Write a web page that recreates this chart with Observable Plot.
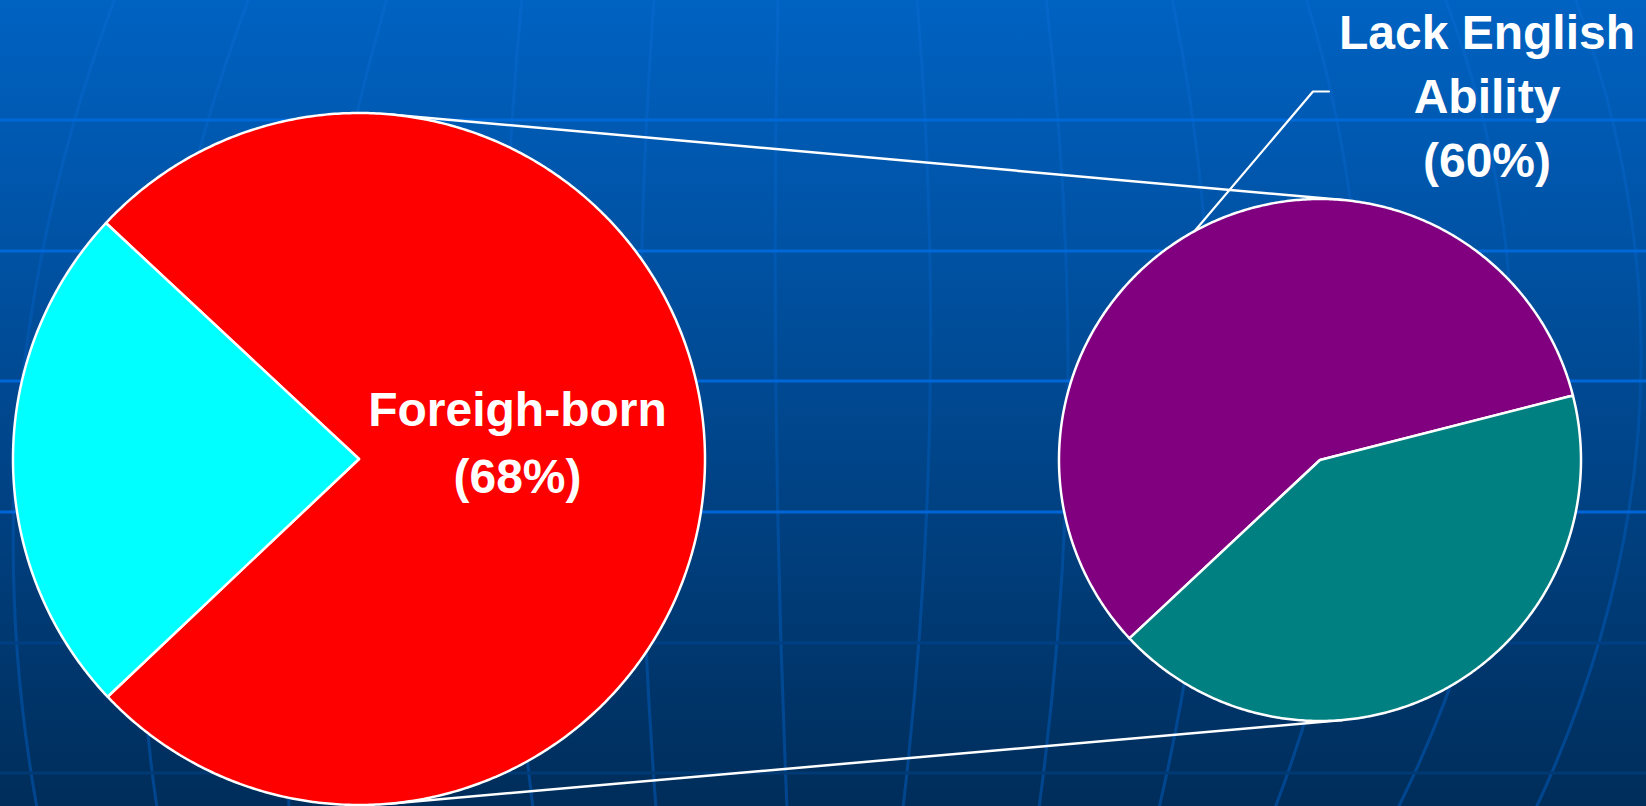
<!DOCTYPE html>
<html>
<head>
<meta charset="utf-8">
<script src="https://cdn.jsdelivr.net/npm/d3@7"></script>
<script src="https://cdn.jsdelivr.net/npm/@observablehq/plot@0.6"></script>
<style>
  html, body { margin: 0; padding: 0; width: 1646px; height: 806px; overflow: hidden; }
  body { background-color: #004a94; background-repeat: no-repeat; }
  #chart { position: absolute; left: 0; top: 0; }
</style>
</head>
<body>
<div id="chart"></div>
<script>
// ---------- data ----------
const leftCategories  = ["Foreign-born", "U.S.-born"];
const leftValues      = [76, 24];              // drawn share of the big pie (degrees)
const rightCategories = ["Lack English Ability", "Speak English"];
const rightValues     = [58, 42];              // drawn share of the small pie
const sliceColors     = ["#ff0000", "#00ffff", "#800080", "#008080"];
const leftLabelLines  = ["Foreigh-born", "(68%)"];
const rightLabelLines = ["Lack English", "Ability", "(60%)"];

// ---------- decorative slide background (not chart data) ----------
const gridYs      = [120, 251, 381, 512, 643, 773];
const gridColors  = ["#0069d8", "#0068d8", "#0067d8", "#0065d6", "#003f84", "#003a74"];
const meridianTop = [115, 249, 387, 522, 654, 778, 917, 1046, 1172, 1306, 1445, 1575];
const meridianMid = [20, 150, 305, 505, 640, 776, 930, 1068, 1210, 1360, 1510, 1640];
const meridianBot = [37, 157, 289, 533, 656, 787, 903, 1039, 1159, 1275, 1398, 1536];

const W = 1646, H = 806;
{
  let s = `<svg xmlns="http://www.w3.org/2000/svg" width="${W}" height="${H}">` +
    `<defs><linearGradient id="bg" x1="0" y1="0" x2="0" y2="1">` +
    `<stop offset="0" stop-color="#0062c2"/><stop offset="0.5" stop-color="#004890"/><stop offset="1" stop-color="#002d5a"/></linearGradient>` +
    `<linearGradient id="mg" gradientUnits="userSpaceOnUse" x1="0" y1="0" x2="0" y2="${H}">` +
    `<stop offset="0" stop-color="#0566ca"/><stop offset="0.5" stop-color="#0051a4"/><stop offset="1" stop-color="#00458e"/></linearGradient></defs>` +
    `<rect width="${W}" height="${H}" fill="url(#bg)"/>`;
  meridianTop.forEach((xt, i) => {
    const xb = meridianBot[i], c = 2 * meridianMid[i] - (xt + xb) / 2;
    s += `<path d="M${xt} -2 Q${c} ${H / 2} ${xb} ${H + 2}" fill="none" stroke="url(#mg)" stroke-width="3"/>`;
  });
  gridYs.forEach((y, i) => { s += `<rect x="0" y="${y - 1.5}" width="${W}" height="3" fill="${gridColors[i]}"/>`; });
  s += `</svg>`;
  document.body.style.backgroundImage = `url("data:image/svg+xml,${encodeURIComponent(s)}")`;
}

// ---------- layout ----------
const pies = [
  {categories: leftCategories,  values: leftValues,  cx: 358.5,  cy: 458.5, r: 346, start: 313},
  {categories: rightCategories, values: rightValues, cx: 1319.5, cy: 459.5, r: 261, start: 226.9}
];
const rad = d => d * Math.PI / 180;

// slice polygons built from the values via d3.pie
const slicePts = [];
const arcsByPie = pies.map(p => {
  const arcs = d3.pie().sort(null).startAngle(rad(p.start)).endAngle(rad(p.start) + 2 * Math.PI)(p.values);
  arcs.forEach((a, i) => {
    const cat = p.categories[i];
    slicePts.push({cat, x: p.cx, y: p.cy});
    const n = Math.max(2, Math.ceil((a.endAngle - a.startAngle) / rad(0.5)));
    for (let k = 0; k <= n; k++) {
      const t = a.startAngle + (a.endAngle - a.startAngle) * k / n;
      slicePts.push({cat, x: p.cx + p.r * Math.sin(t), y: p.cy - p.r * Math.cos(t)});
    }
    slicePts.push({cat, x: p.cx, y: p.cy});
  });
  return arcs;
});

// external tangent connector lines between the two pies
const [P1, P2] = pies;
const dx = P2.cx - P1.cx, dy = P2.cy - P1.cy, dd = Math.hypot(dx, dy);
const ux = dx / dd, uy = dy / dd, vx = -uy, vy = ux;
const a = (P1.r - P2.r) / dd, b = Math.sqrt(1 - a * a);
const connectors = [-1, 1].map(sg => {
  const nx = a * ux + sg * b * vx, ny = a * uy + sg * b * vy;
  return {x1: P1.cx + P1.r * nx, y1: P1.cy + P1.r * ny, x2: P2.cx + P2.r * nx, y2: P2.cy + P2.r * ny};
});

// leader from the middle of the "Lack English Ability" slice to its label
const la = arcsByPie[1][0];
const mid = (la.startAngle + la.endAngle) / 2;
const rightLabel = {x: 1486.5, y: 176};
const leftLabel = {x: 517, y: 492};
const leader = [
  {x: P2.cx + P2.r * Math.sin(mid), y: P2.cy - P2.r * Math.cos(mid)},
  {x: rightLabel.x - 174, y: 91},
  {x: rightLabel.x - 158, y: 91}
];

const font = "'Liberation Sans', Arial, Helvetica, sans-serif";
const chart = Plot.plot({
  width: W, height: H,
  margin: 0,
  x: {type: "linear", domain: [0, W], range: [0, W], axis: null},
  y: {type: "linear", domain: [0, H], range: [0, H], axis: null},
  color: {domain: [...leftCategories, ...rightCategories], range: sliceColors},
  style: {background: "transparent", overflow: "visible"},
  marks: [
    Plot.link(connectors, {x1: "x1", y1: "y1", x2: "x2", y2: "y2", stroke: "white", strokeWidth: 2.5}),
    Plot.line(slicePts, {x: "x", y: "y", z: "cat", fill: "cat", stroke: "white", strokeWidth: 2.5, curve: "linear"}),
    Plot.line(leader, {x: "x", y: "y", stroke: "white", strokeWidth: 2.2, curve: "linear"}),
    Plot.text([{...leftLabel, text: leftLabelLines.join("\n")}], {
      x: "x", y: "y", text: "text", lineAnchor: "bottom", lineHeight: 1.39,
      fill: "white", fontSize: 48, fontWeight: "bold", fontFamily: font, textAnchor: "middle"
    }),
    Plot.text([{...rightLabel, text: rightLabelLines.join("\n")}], {
      x: "x", y: "y", text: "text", lineAnchor: "bottom", lineHeight: 1.33,
      fill: "white", fontSize: 48, fontWeight: "bold", fontFamily: font, textAnchor: "middle"
    })
  ]
});
document.getElementById("chart").appendChild(chart);
</script>
</body>
</html>
